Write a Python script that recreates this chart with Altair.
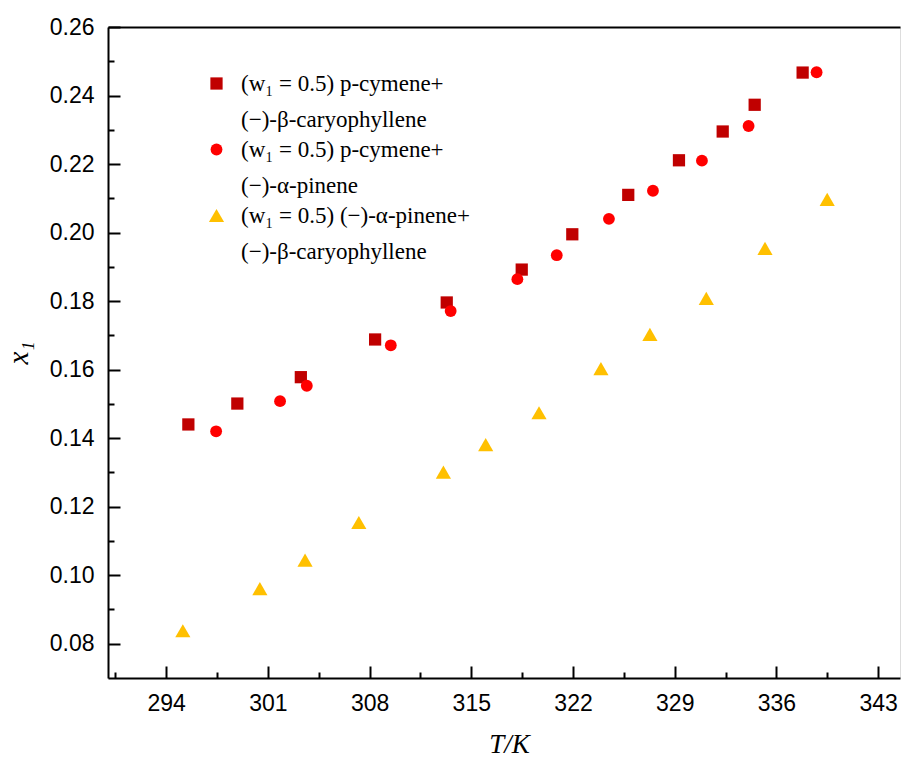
import altair as alt
import pandas as pd

# ---- data ----
series_labels = [
    "(w₁ = 0.5) p-cymene+|(−)-β-caryophyllene",
    "(w₁ = 0.5) p-cymene+|(−)-α-pinene",
    "(w₁ = 0.5) (−)-α-pinene+|\u00a0\u00a0(−)-β-caryophyllene",
]
series_colors = ["#C00000", "#FF0000", "#FFC000"]
series_shapes = ["square", "circle", "triangle-up"]
series_sizes = [150, 140, 230]

sq_T = [295.53, 298.90, 303.27, 308.38, 313.31, 318.47, 321.95, 325.80, 329.29, 332.30, 334.50, 337.80]
sq_x = [0.1440, 0.1501, 0.1578, 0.1688, 0.1796, 0.1892, 0.1995, 0.2110, 0.2211, 0.2295, 0.2373, 0.2467]

ci_T = [297.44, 301.84, 303.68, 309.46, 313.58, 318.17, 320.88, 324.47, 327.50, 330.87, 334.08, 338.76]
ci_x = [0.1420, 0.1508, 0.1553, 0.1671, 0.1771, 0.1864, 0.1934, 0.2040, 0.2122, 0.2210, 0.2311, 0.2468]

tr_T = [295.15, 300.45, 303.56, 307.26, 313.08, 315.99, 319.66, 323.92, 327.29, 331.17, 335.21, 339.49]
tr_x = [0.0838, 0.0961, 0.1044, 0.1154, 0.1301, 0.1381, 0.1474, 0.1603, 0.1703, 0.1808, 0.1954, 0.2097]

x_major = [294, 301, 308, 315, 322, 329, 336, 343]
x_minor = [290.5, 297.5, 304.5, 311.5, 318.5, 325.5, 332.5, 339.5]
y_major = [0.08, 0.10, 0.12, 0.14, 0.16, 0.18, 0.20, 0.22, 0.24, 0.26]
y_minor = [0.09, 0.11, 0.13, 0.15, 0.17, 0.19, 0.21, 0.23, 0.25]

x_domain = [290, 344.5]
y_domain = [0.07, 0.26]

rows = []
for lab, Ts, xs in zip(series_labels, [sq_T, ci_T, tr_T], [sq_x, ci_x, tr_x]):
    for t, v in zip(Ts, xs):
        rows.append({"T": t, "x1": v, "series": lab})
df = pd.DataFrame(rows)

W, H = 792, 651
xs_scale = alt.Scale(domain=x_domain, nice=False, zero=False)
ys_scale = alt.Scale(domain=y_domain, nice=False, zero=False)

legend = alt.Legend(
    title=None, orient="none", legendX=97, legendY=45,
    labelExpr="split(datum.label, '|')",
    labelFont="Liberation Serif", labelFontSize=23, labelColor="black",
    labelBaseline="middle", labelOffset=13, labelLimit=500,
    rowPadding=6, padding=0, symbolStrokeWidth=0, symbolOpacity=1,
)

base = alt.Chart(df)

points = base.mark_point(filled=True, opacity=1, strokeWidth=0).encode(
    x=alt.X("T:Q", scale=xs_scale, axis=alt.Axis(
        orient="bottom", values=x_major, ticks=False, tickSize=0, grid=False, labelPadding=14,
        labelFont="Liberation Sans", labelFontSize=23, labelColor="black",
        domainColor="black", domainWidth=2,
        title="T/K", titleFont="Liberation Serif", titleFontStyle="italic",
        titleFontWeight="normal", titleFontSize=27, titleColor="black", titlePadding=16,
        titleX=401,
    )),
    y=alt.Y("x1:Q", scale=ys_scale, axis=alt.Axis(
        orient="left", values=y_major, format=".2f", ticks=False, tickSize=0, grid=False, labelPadding=14,
        labelFont="Liberation Sans", labelFontSize=23, labelColor="black",
        domainColor="black", domainWidth=2,
        title="x₁", titleFont="Liberation Serif", titleFontStyle="italic",
        titleFontWeight="normal", titleFontSize=29, titleColor="black", titlePadding=16,
    )),
    color=alt.Color("series:N", scale=alt.Scale(domain=series_labels, range=series_colors), legend=legend),
    shape=alt.Shape("series:N", scale=alt.Scale(domain=series_labels, range=series_shapes), legend=legend),
    size=alt.Size("series:N", scale=alt.Scale(type="ordinal", domain=series_labels, range=series_sizes), legend=legend),
)

major_ticks = base.mark_point(opacity=0).encode(
    x=alt.X("T:Q", scale=xs_scale, axis=alt.Axis(
        orient="bottom", values=x_major, offset=-12, tickSize=12, tickWidth=2, tickColor="black",
        labels=False, domain=False, grid=False, title=None)),
    y=alt.Y("x1:Q", scale=ys_scale, axis=alt.Axis(
        orient="left", values=y_major, offset=-12, tickSize=12, tickWidth=2, tickColor="black",
        labels=False, domain=False, grid=False, title=None)),
)

minor_ticks = base.mark_point(opacity=0).encode(
    x=alt.X("T:Q", scale=xs_scale, axis=alt.Axis(
        orient="bottom", values=x_minor, offset=-6, tickSize=6, tickWidth=2, tickColor="black",
        labels=False, domain=False, grid=False, title=None)),
    y=alt.Y("x1:Q", scale=ys_scale, axis=alt.Axis(
        orient="left", values=y_minor, offset=-6, tickSize=6, tickWidth=2, tickColor="black",
        labels=False, domain=False, grid=False, title=None)),
)

top_line = base.mark_point(opacity=0).encode(
    x=alt.X("T:Q", scale=xs_scale, axis=alt.Axis(
        orient="top", ticks=False, labels=False, domain=True, domainColor="black",
        domainWidth=2, grid=False, title=None)),
    y=alt.Y("x1:Q", scale=ys_scale, axis=None),
)

chart = alt.layer(points, major_ticks, minor_ticks, top_line).resolve_axis(
    x="independent", y="independent"
).properties(
    width=W, height=H,
    autosize=alt.AutoSizeParams(type="none"),
    padding={"left": 108, "top": 27, "right": 1, "bottom": 80},
    background="white",
).configure_view(stroke=None).configure(
    style={"guide-label": {"lineHeight": 36}}
)

chart.save("out.html", embed_options={"renderer": "svg", "actions": False})
